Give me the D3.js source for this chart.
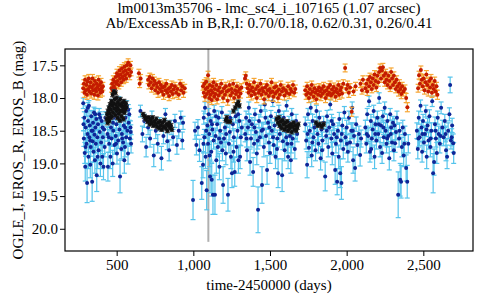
<!DOCTYPE html>
<html>
<head>
<meta charset="utf-8">
<script src="https://cdn.jsdelivr.net/npm/d3@7"></script>
<style>
body{margin:0;background:#fff;}
</style>
</head>
<body>
<svg width="480" height="300"></svg>
<script>
// title / labels
const titleLines=["lm0013m35706 - lmc_sc4_i_107165 (1.07 arcsec)","Ab/ExcessAb in B,R,I: 0.70/0.18, 0.62/0.31, 0.26/0.41"];
const xLabel="time-2450000 (days)";
const yLabel="OGLE_I, EROS_R, EROS_B (mag)";
const xTicks=[500,1000,1500,2000,2500];
const yTicks=[17.5,18.0,18.5,19.0,19.5,20.0];
const markerDay=1098;   // grey vertical line
const markerMag=[17.25,20.2];
const fontName="Liberation Serif";

// EROS_B : [day, mag, err]
const erosB=[
[282,18.08,.08],[286,18.62,.12],[289,18.3,.09],[292,18.84,.16],[295,19.05,.22],[298,18.45,.1],[301,18.2,.08],[304,18.7,.13],[307,19.3,.3],[310,18.55,.11],[313,18.35,.09],[316,18.9,.18],[319,18.12,.08],[322,18.6,.12],[325,18.42,.1],[328,19.02,.2],[331,18.75,.14],[334,18.28,.09],[337,18.5,.11],[340,19.28,.3],[343,18.66,.13],[346,18.38,.1],[349,18.82,.16],[352,18.22,.08],[355,18.56,.11],[358,18.95,.2],[361,18.45,.1],[364,18.7,.14],[367,18.32,.09],[370,19.18,.25],[374,18.6,.12],[378,18.4,.1],[382,18.8,.15],[386,18.25,.09],[390,18.52,.11],[394,19.0,.2],[398,18.68,.13],[402,18.35,.1],[406,18.9,.18],[410,18.6,.12],[414,19.05,.2],[418,18.48,.1],[422,18.75,.15],[426,18.3,.09],
[284,18.4,.1],[297,18.75,.14],[312,18.15,.08],[327,18.65,.13],[344,18.5,.11],[360,18.25,.09],[376,18.9,.18],[392,18.3,.09],[408,18.45,.1],
[440,18.55,.11],[443,19.05,.22],[447,18.35,.1],[451,18.7,.13],[455,18.2,.08],[459,18.9,.18],[463,18.45,.1],[467,18.62,.12],[471,18.1,.08],[474,19.0,.2],[478,18.5,.11],[482,18.3,.09],[486,18.72,.14],[490,18.15,.08],[494,18.58,.12],[498,18.4,.1],[502,18.85,.16],[506,18.25,.09],[510,18.65,.12],[514,18.05,.07],[518,18.48,.1],[522,19.2,.25],[526,18.35,.09],[530,18.78,.15],[534,18.55,.11],[538,18.2,.08],[542,18.68,.13],[546,18.42,.1],[550,18.95,.2],[554,18.75,.15],[558,18.3,.09],[562,18.6,.12],[566,18.12,.08],[570,18.5,.11],[574,18.85,.16],[578,18.38,.1],[582,18.25,.09],[586,18.62,.12],[590,18.45,.1],[594,18.7,.14],
[449,18.6,.12],[476,18.38,.1],[496,18.7,.14],[516,18.32,.09],[536,18.62,.12],[556,18.45,.1],[576,18.18,.08],[592,18.52,.11],
[655,18.2,.09],[668,18.55,.12],[680,18.35,.1],[692,18.75,.15],[705,18.45,.11],[718,18.62,.13],[730,18.3,.1],[742,18.88,.17],[755,18.5,.12],[768,18.7,.14],[780,18.4,.1],[792,18.92,.18],[805,18.58,.12],[818,18.25,.09],[830,18.66,.13],[842,18.8,.16],[855,18.45,.11],[868,18.6,.12],[880,18.35,.1],[893,18.72,.14],[905,18.5,.12],[918,18.3,.1],[928,18.65,.13],[933,18.38,.1],
[998,19.56,.3],[1011,18.5,.13],[1020,18.72,.15],[1030,18.45,.12],[1040,18.8,.17],[1055,19.3,.25],[1063,19.02,.2],[1068,18.3,.1],[1072,18.6,.12],[1076,18.15,.09],[1080,18.9,.18],[1087,19.41,.3],[1092,18.42,.11],[1096,18.7,.14],[1100,18.25,.09],[1104,18.55,.12],[1109,19.2,.25],[1113,18.35,.1],[1117,18.82,.16],[1120,19.25,.25],[1124,18.48,.11],[1128,19.48,.3],[1132,18.65,.13],[1136,18.2,.09],[1141,19.48,.3],[1145,18.58,.12],[1150,18.95,.2],[1155,18.4,.1],[1160,18.75,.15],[1165,18.3,.1],[1170,19.05,.2],[1175,18.5,.12],[1180,18.68,.14],[1186,18.22,.09],[1194,19.33,.28],[1200,18.62,.13],[1206,18.45,.11],[1212,18.85,.17],[1218,18.35,.1],[1226,19.48,.25],[1232,18.7,.14],[1238,18.52,.12],[1245,18.9,.18],[1252,19.15,.22],[1258,18.4,.1],[1264,18.6,.13],[1270,19.13,.22],[1276,18.28,.09],[1282,18.75,.15],[1288,18.5,.12],[1294,18.95,.2],[1300,18.35,.1],[1305,18.9,.18],[1310,18.6,.13],[1316,18.45,.11],
[1066,18.7,.14],[1084,18.5,.12],[1106,18.88,.17],[1122,18.4,.1],[1148,18.28,.09],[1168,18.62,.13],[1190,18.8,.16],[1214,18.55,.12],[1240,18.3,.1],[1262,18.82,.16],[1292,18.25,.09],
[1338,18.55,.12],[1344,18.3,.1],[1350,18.8,.16],[1356,18.45,.11],[1362,18.15,.09],[1370,18.98,.2],[1376,18.62,.13],[1382,18.4,.1],[1390,19.13,.22],[1396,18.7,.14],[1402,18.25,.09],[1408,18.52,.12],[1414,18.85,.17],[1422,19.71,.35],[1428,18.35,.1],[1434,18.6,.13],[1440,18.2,.09],[1448,19.33,.28],[1454,18.48,.11],[1460,18.75,.15],[1466,18.1,.08],[1474,18.58,.12],[1481,19.1,.22],[1487,18.38,.1],[1493,18.68,.14],[1500,18.84,.16],[1506,18.28,.09],[1512,18.5,.12],[1518,18.05,.08],[1524,18.72,.15],[1530,18.42,.11],[1536,18.9,.18],[1542,18.32,.1],[1548,18.62,.13],[1553,19.15,.22],[1558,18.2,.09],[1564,18.55,.12],[1570,18.45,.11],[1579,19.18,.25],[1584,18.66,.13],[1590,18.3,.1],[1596,18.8,.16],[1602,18.5,.12],[1608,18.12,.08],[1613,18.7,.14],[1618,18.9,.18],[1624,18.38,.1],[1630,18.58,.12],[1636,18.95,.2],[1642,18.25,.09],[1648,18.62,.13],[1655,18.45,.11],[1662,18.78,.15],[1670,18.35,.1],[1677,18.55,.12],
[1347,18.62,.13],[1366,18.35,.1],[1398,18.45,.11],[1420,18.65,.13],[1446,18.5,.12],[1470,18.3,.1],[1496,18.45,.11],[1520,18.6,.13],[1546,18.78,.15],[1574,18.35,.1],[1606,18.6,.13],[1640,18.7,.14],[1666,18.5,.12],
[1730,18.4,.11],[1736,18.65,.13],[1742,19.02,.2],[1748,18.25,.09],[1754,18.76,.15],[1760,18.5,.12],[1766,18.15,.09],[1772,18.88,.17],[1778,18.35,.1],[1784,18.6,.13],[1790,18.45,.11],[1797,18.8,.16],[1803,18.2,.09],[1810,18.55,.12],[1816,18.7,.14],[1822,18.3,.1],[1830,18.92,.18],[1836,18.48,.11],[1842,18.65,.13],[1850,18.38,.1],[1860,19.2,.22],[1866,18.58,.12],[1872,18.28,.09],[1880,18.75,.15],[1886,18.45,.11],[1893,18.1,.08],[1900,18.62,.13],[1906,18.85,.17],[1912,18.4,.1],[1918,18.55,.12],[1925,19.1,.22],[1930,18.7,.14],[1938,19.28,.2],[1943,18.5,.12],[1948,18.9,.18],[1952,18.32,.1],[1958,19.15,.22],[1962,18.65,.13],[1966,19.3,.25],[1972,18.42,.11],[1978,18.78,.15],[1985,18.22,.09],[1992,18.6,.13],[2000,18.45,.11],[2008,18.82,.16],[2015,18.3,.1],[2022,18.68,.14],[2030,18.5,.12],[2036,18.15,.09],[2042,18.95,.2],[2048,18.58,.12],[2055,19.07,.2],[2062,18.4,.11],[2070,18.72,.15],[2080,18.55,.12],[2088,18.87,.17],[2094,18.62,.13],
[1745,18.55,.12],[1776,18.68,.14],[1806,18.4,.11],[1840,18.8,.16],[1870,18.5,.12],[1902,18.35,.1],[1935,18.6,.13],[1968,18.55,.12],[2002,18.7,.14],[2040,18.5,.12],
[2122,18.45,.11],[2128,18.7,.14],[2134,18.25,.09],[2140,18.58,.12],[2146,18.05,.08],[2152,18.82,.16],[2158,18.35,.1],[2164,18.62,.13],[2170,18.48,.11],[2176,18.2,.09],[2182,18.9,.18],[2188,18.4,.1],[2194,18.65,.13],[2200,18.3,.1],[2206,18.55,.12],[2212,18.0,.08],[2218,18.75,.15],[2224,18.42,.11],[2231,18.84,.16],[2236,18.28,.09],[2242,18.6,.13],[2248,18.15,.09],[2254,18.5,.12],[2260,18.7,.14],[2266,18.35,.1],[2272,18.58,.12],[2278,18.92,.18],[2284,18.25,.09],[2290,18.45,.11],[2296,18.68,.14],[2302,18.38,.1],[2308,18.8,.16],[2316,18.69,.14],[2322,18.52,.12],[2328,18.3,.1],[2336,19.48,.35],[2342,18.62,.13],[2349,19.25,.25],[2355,19.28,.25],[2360,18.75,.15],[2366,18.45,.11],[2372,18.88,.17],[2380,18.55,.12],[2388,19.07,.2],[2395,19.28,.25],[2402,18.7,.14],
[2131,18.55,.12],[2160,18.78,.15],[2186,18.55,.12],[2210,18.4,.11],[2240,18.45,.11],[2264,18.62,.13],[2288,18.55,.12],[2312,18.42,.11],[2345,18.5,.12],[2376,18.7,.14],
[2458,18.5,.12],[2464,18.78,.15],[2470,18.3,.1],[2476,18.6,.13],[2482,18.12,.09],[2488,18.45,.11],[2492,18.82,.16],[2498,18.35,.1],[2504,18.68,.14],[2510,18.55,.12],[2516,18.2,.09],[2522,18.9,.18],[2528,18.42,.11],[2534,18.65,.13],[2540,18.28,.1],[2546,18.75,.15],[2552,18.5,.12],[2558,18.05,.08],[2564,19.15,.3],[2570,18.98,.2],[2576,18.4,.11],[2582,18.62,.13],[2588,18.84,.16],[2594,18.3,.1],[2600,18.55,.12],[2608,18.7,.14],[2616,18.15,.09],[2624,18.45,.11],[2632,18.6,.13],[2640,18.35,.1],[2648,18.8,.16],[2655,18.9,.18],[2662,18.5,.12],[2670,18.25,.1],[2675,17.8,.12],[2680,18.65,.13],[2688,18.42,.11],[2695,18.69,.14],[2698,18.84,.16],
[2468,18.62,.13],[2494,18.55,.12],[2520,18.48,.11],[2548,18.62,.13],[2580,18.5,.12],[2612,18.58,.12],[2645,18.55,.12],[2685,18.6,.13]
];

// EROS_R : [day, mag, err]
const erosR=[
[282,17.85,.06],[286,17.78,.06],[290,17.92,.07],[294,17.72,.06],[298,17.88,.06],[302,17.8,.06],[306,17.95,.07],[310,17.75,.06],[314,17.86,.06],[318,17.7,.06],[322,17.9,.07],[326,17.82,.06],[330,17.76,.06],[334,17.93,.07],[338,17.84,.06],[342,17.7,.06],[346,17.88,.06],[350,17.8,.06],[354,17.95,.07],[358,17.74,.06],[362,17.86,.06],[366,17.9,.07],[370,17.78,.06],[374,17.83,.06],[378,17.96,.07],[382,17.72,.06],[386,17.87,.06],[390,17.8,.06],[394,17.92,.07],[398,17.76,.06],[402,17.85,.06],[406,17.9,.07],[410,17.82,.06],
[466,17.85,.06],[470,17.78,.06],[474,17.88,.06],[478,17.72,.06],[482,17.82,.06],[486,17.75,.06],[490,17.86,.06],[494,17.68,.06],[498,17.78,.06],[502,17.62,.06],[506,17.74,.06],[510,17.66,.06],[514,17.8,.06],[518,17.58,.06],[522,17.7,.06],[526,17.64,.06],[530,17.76,.06],[534,17.55,.06],[538,17.68,.06],[542,17.6,.06],[546,17.72,.06],[550,17.52,.06],[554,17.65,.06],[558,17.58,.06],[562,17.7,.06],[566,17.5,.06],[570,17.62,.06],[575,17.46,.06],[580,17.56,.06],[585,17.66,.06],[590,17.5,.06],[594,17.6,.06],
[645,17.62,.06],[650,17.78,.06],[656,17.7,.06],[705,17.72,.06],[710,17.8,.06],[716,17.68,.06],[722,17.76,.06],[728,17.85,.06],[734,17.7,.06],[740,17.8,.06],[746,17.74,.06],[752,17.88,.06],[758,17.78,.06],[764,17.83,.06],[770,17.92,.07],[776,17.76,.06],[782,17.86,.06],[788,17.8,.06],[794,17.9,.07],[800,17.84,.06],[806,17.95,.07],[812,17.82,.06],[818,17.88,.06],[824,17.78,.06],[830,17.92,.07],[836,17.86,.06],[842,17.97,.07],[848,17.84,.06],[854,17.9,.07],[860,17.8,.06],[866,17.94,.07],[872,17.87,.06],[880,17.82,.06],[888,17.92,.07],[896,17.86,.06],[905,17.95,.07],[914,17.78,.06],[920,17.88,.06],[928,17.82,.06],[936,17.92,.07],[944,17.85,.06],
[1063,17.82,.06],[1068,17.92,.06],[1072,17.78,.06],[1076,17.98,.07],[1080,17.86,.06],[1084,17.75,.06],[1088,17.94,.07],[1092,17.84,.06],[1096,17.65,.06],[1100,17.9,.06],[1104,18.0,.07],[1108,17.8,.06],[1112,17.95,.07],[1116,17.88,.06],[1120,18.03,.07],[1124,17.82,.06],[1128,17.92,.06],[1132,17.76,.06],[1136,17.98,.07],[1140,17.86,.06],[1145,17.94,.07],[1150,17.8,.06],[1155,18.02,.07],[1160,17.88,.06],[1165,17.96,.07],[1170,17.84,.06],[1176,17.92,.06],[1182,17.78,.06],[1188,17.9,.06],[1194,18.0,.07],[1200,17.85,.06],[1206,17.95,.07],[1212,17.82,.06],[1218,17.9,.06],[1224,18.04,.07],[1230,17.88,.06],[1236,17.8,.06],[1242,17.96,.07],[1248,17.86,.06],[1254,17.92,.06],[1260,17.78,.06],[1266,18.0,.07],[1272,17.88,.06],[1278,17.94,.07],[1284,17.82,.06],[1290,17.9,.06],[1296,17.98,.07],[1302,17.86,.06],[1308,17.93,.07],[1314,17.84,.06],
[1337,17.7,.06],[1342,17.66,.06],[1348,17.78,.06],[1354,17.85,.06],[1360,17.92,.07],[1366,17.8,.06],[1372,17.88,.06],[1378,17.96,.07],[1384,17.84,.06],[1390,17.9,.06],[1396,17.76,.06],[1402,17.94,.07],[1408,17.86,.06],[1414,18.0,.07],[1420,17.82,.06],[1426,17.92,.06],[1432,17.88,.06],[1438,17.78,.06],[1444,17.95,.07],[1450,17.85,.06],[1456,17.9,.06],[1462,18.02,.07],[1468,17.84,.06],[1474,17.93,.07],[1480,17.8,.06],[1486,17.88,.06],[1492,17.97,.07],[1498,17.86,.06],[1504,17.92,.06],[1510,17.76,.06],[1516,17.9,.06],[1522,17.98,.07],[1528,17.84,.06],[1534,17.93,.07],[1540,17.82,.06],[1546,17.9,.06],[1552,18.0,.07],[1558,17.87,.06],[1564,17.95,.07],[1570,17.8,.06],[1578,17.9,.06],[1586,17.85,.06],[1594,17.96,.07],[1602,17.88,.06],[1610,17.92,.06],[1618,17.82,.06],[1626,17.94,.07],[1634,17.86,.06],[1642,17.9,.06],[1650,17.8,.06],[1658,17.92,.06],[1665,17.86,.06],
[1730,17.88,.06],[1736,17.95,.07],[1742,17.82,.06],[1748,17.92,.06],[1754,18.0,.07],[1760,17.86,.06],[1766,17.94,.07],[1772,17.8,.06],[1778,17.9,.06],[1784,17.98,.07],[1790,17.85,.06],[1796,17.92,.06],[1802,18.02,.07],[1808,17.88,.06],[1814,17.95,.07],[1820,17.84,.06],[1826,17.9,.06],[1832,17.97,.07],[1838,17.86,.06],[1844,17.93,.07],[1850,17.82,.06],[1856,17.9,.06],[1862,18.0,.07],[1868,17.88,.06],[1874,17.95,.07],[1880,17.84,.06],[1886,17.92,.06],[1892,17.8,.06],[1898,17.96,.07],[1904,17.87,.06],[1910,17.93,.07],[1916,17.83,.06],[1922,17.9,.06],[1928,17.98,.07],[1934,17.86,.06],[1940,17.92,.06],[1946,17.8,.06],[1952,17.95,.07],[1958,17.88,.06],[1964,17.84,.06],[1970,17.93,.07],[1978,17.78,.06],[1990,17.54,.06],[1998,17.86,.06],[2006,17.8,.06],[2014,17.92,.07],[2022,17.84,.06],[2033,18.21,.07],[2045,17.9,.06],[2058,17.82,.06],[2090,17.78,.06],[2100,17.88,.06],[2106,17.72,.06],
[2122,17.85,.06],[2128,17.78,.06],[2134,17.9,.06],[2140,17.72,.06],[2146,17.82,.06],[2152,17.68,.06],[2158,17.76,.06],[2164,17.86,.06],[2170,17.7,.06],[2176,17.8,.06],[2182,17.64,.06],[2188,17.74,.06],[2194,17.84,.06],[2200,17.66,.06],[2206,17.76,.06],[2212,17.6,.06],[2218,17.54,.06],[2224,17.7,.06],[2230,17.58,.06],[2236,17.53,.06],[2242,17.66,.06],[2248,17.76,.06],[2254,17.62,.06],[2260,17.72,.06],[2266,17.8,.06],[2272,17.66,.06],[2278,17.74,.06],[2284,17.84,.06],[2290,17.6,.06],[2296,17.7,.06],[2302,17.8,.06],[2308,17.66,.06],[2314,17.76,.06],[2320,17.86,.06],[2326,17.72,.06],[2332,17.82,.06],[2338,17.9,.07],[2344,17.78,.06],[2350,17.86,.06],[2356,17.94,.07],[2362,17.82,.06],[2370,17.9,.07],[2380,17.86,.06],[2388,18.0,.07],[2396,18.14,.07],
[2466,17.85,.06],[2472,17.65,.06],[2478,17.78,.06],[2484,17.57,.06],[2490,17.72,.06],[2496,17.82,.06],[2502,17.7,.06],[2508,17.88,.06],[2514,17.76,.06],[2520,17.64,.06],[2526,17.8,.06],[2532,17.9,.07],[2538,17.74,.06],[2544,17.84,.06],[2550,17.7,.06],[2556,17.92,.07],[2562,17.8,.06],[2568,17.86,.06],[2574,17.74,.06],[2580,17.9,.07],[2586,17.82,.06],[2592,17.95,.07]
];

// OGLE_I : [day, mag, err]
const ogleI=[
[435,18.32,.03],[438,18.25,.03],[441,18.38,.03],[444,18.2,.03],[447,18.3,.03],[450,18.15,.03],[452,18.35,.03],[455,18.24,.03],[458,18.1,.03],[460,18.3,.03],[463,18.18,.03],[466,18.05,.03],[468,18.28,.03],[471,18.12,.03],[474,17.95,.03],[476,18.22,.03],[479,18.08,.03],[482,17.9,.03],[484,18.16,.03],[487,18.02,.03],[490,18.26,.03],[492,17.92,.03],[495,18.1,.03],[498,18.2,.03],[500,18.0,.03],[503,18.14,.03],[506,18.3,.03],[508,18.06,.03],[511,18.18,.03],[514,18.24,.03],[517,18.1,.03],[520,18.34,.03],[523,18.02,.03],[526,18.2,.03],[529,18.12,.03],[532,18.28,.03],[535,18.08,.03],[538,18.2,.03],[541,18.15,.03],[544,18.32,.03],[547,18.05,.03],[550,18.22,.03],[553,18.12,.03],[556,18.18,.03],[560,18.08,.03],[564,18.14,.03],
[672,18.25,.03],[680,18.28,.03],[688,18.32,.03],[695,18.3,.03],[702,18.36,.03],[710,18.3,.03],[716,18.4,.03],[722,18.34,.03],[728,18.38,.03],[734,18.3,.03],[740,18.42,.03],[746,18.36,.03],[752,18.4,.03],[758,18.32,.03],[764,18.44,.03],[770,18.38,.03],[776,18.46,.03],[782,18.36,.03],[788,18.42,.03],[794,18.48,.03],[800,18.38,.03],[806,18.44,.03],[812,18.34,.03],[818,18.46,.03],[824,18.4,.03],[830,18.5,.03],[836,18.42,.03],[842,18.38,.03],[848,18.46,.03],[854,18.42,.03],[860,18.48,.03],
[1212,18.34,.03],[1218,18.3,.03],[1226,18.36,.03],[1240,18.36,.03],[1262,18.2,.03],[1273,18.15,.03],[1284,18.1,.03],[1293,18.06,.03],[1300,18.12,.03],
[1545,18.32,.03],[1552,18.38,.03],[1558,18.3,.03],[1564,18.42,.03],[1570,18.36,.03],[1576,18.46,.03],[1582,18.34,.03],[1588,18.4,.03],[1594,18.48,.03],[1600,18.38,.03],[1606,18.44,.03],[1612,18.36,.03],[1618,18.5,.03],[1624,18.42,.03],[1630,18.46,.03],[1636,18.4,.03],[1642,18.52,.03],[1648,18.44,.03],[1654,18.38,.03],[1660,18.48,.03],[1666,18.42,.03],[1672,18.5,.03],[1678,18.45,.03],[1684,18.4,.03],
[1800,18.38,.03],[1812,18.42,.03],[1825,18.4,.03],[1838,18.44,.03],[1850,18.4,.03]
];

const svg=d3.select("svg");
const pL=65,pR=473,pT=49,pB=251;

let x=d3.scaleLinear().domain([163,2824]).range([pL,pR]);
let y=d3.scaleLinear().domain([17.25,20.34]).range([pT,pB]);

// grey marker line
svg.append("line")
   .attr("x1",x(markerDay)).attr("x2",x(markerDay))
   .attr("y1",y(markerMag[0])).attr("y2",y(markerMag[1]))
   .attr("stroke","#b0b0b0").attr("stroke-width",2);

function drawSeries(data,barColor,dotColor,r){
  let g=svg.append("g");
  for(let i=0;i<data.length;i++){
    let d=data[i];
    let cx=x(d[0]);
    let y1=y(d[1]-d[2]), y2=y(d[1]+d[2]);
    g.append("line").attr("x1",cx).attr("x2",cx).attr("y1",y1).attr("y2",y2)
     .attr("stroke",barColor).attr("stroke-width",1.2);
    g.append("line").attr("x1",cx-2.5).attr("x2",cx+2.5).attr("y1",y1).attr("y2",y1)
     .attr("stroke",barColor).attr("stroke-width",1.2);
    g.append("line").attr("x1",cx-2.5).attr("x2",cx+2.5).attr("y1",y2).attr("y2",y2)
     .attr("stroke",barColor).attr("stroke-width",1.2);
  }
  for(let i=0;i<data.length;i++){
    g.append("circle")
     .attr("cx",x(data[i][0]))
     .attr("cy",y(data[i][1]))
     .attr("r",r)
     .attr("fill",dotColor);
  }
}

drawSeries(erosB,"#55c4ec","#0e2698",2);
drawSeries(erosR,"#f6a634","#c41c00",2);
drawSeries(ogleI,"#444","#111",2);

// frame
svg.append("rect").attr("x",pL).attr("y",pT).attr("width",pR-pL).attr("height",pB-pT)
   .attr("fill","none").attr("stroke","#000").attr("stroke-width",1.2);

// axes
let xAxis=svg.append("g").attr("transform",`translate(0,${pB})`)
  .call(d3.axisBottom(x).tickValues(xTicks).tickFormat(d3.format(",")).tickSize(5).tickSizeOuter(0).tickPadding(3));
let yAxis=svg.append("g").attr("transform",`translate(${pL},0)`)
  .call(d3.axisLeft(y).tickValues(yTicks).tickFormat(d3.format(".1f")).tickSize(5).tickSizeOuter(0).tickPadding(2));
[xAxis,yAxis].forEach(a=>{
  a.select(".domain").remove();
  a.attr("font-family",fontName).attr("font-size",15);
  a.selectAll("text").attr("fill","#000").attr("font-family",fontName);
  a.selectAll("line").attr("stroke","#000");
});

// titles
function label(xp,yp,txt,rot){
  let t=svg.append("text").attr("text-anchor","middle")
     .attr("font-family",fontName).attr("font-size",15).attr("fill","#000").text(txt);
  if(rot) t.attr("transform",`translate(${xp},${yp}) rotate(-90)`);
  else t.attr("x",xp).attr("y",yp);
}
label((pL+pR)/2,13,titleLines[0]);
label((pL+pR)/2,28,titleLines[1]);
label((pL+pR)/2,290,xLabel);
label(23,(pT+pB)/2,yLabel,true);
</script>
</body>
</html>
